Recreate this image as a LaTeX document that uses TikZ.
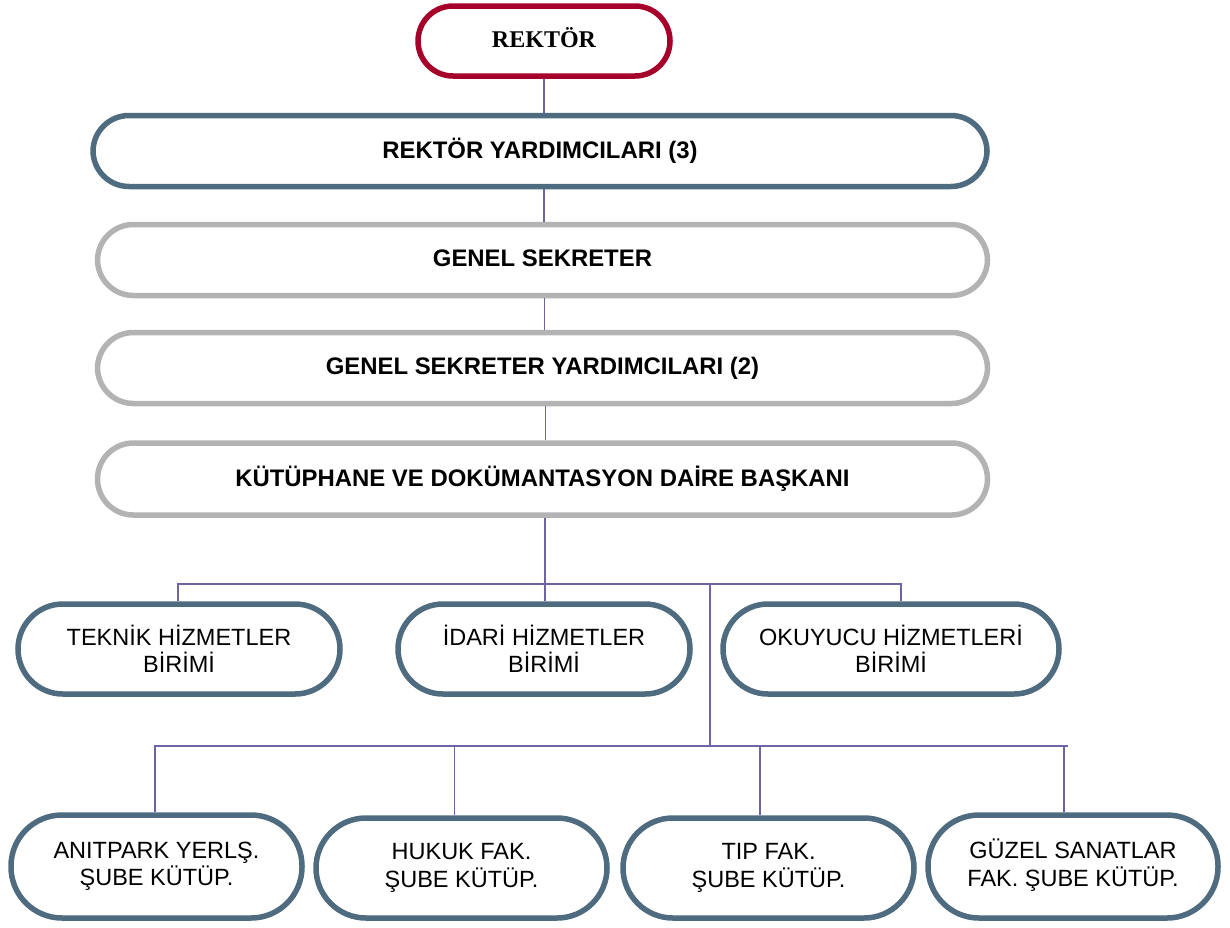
\documentclass[tikz,border=0pt]{standalone}
\usepackage{fontspec}
\setmainfont{Liberation Serif}
\setsansfont{Liberation Sans}
\definecolor{crim}{HTML}{A6002A}
\definecolor{slate}{HTML}{4E6B7F}
\definecolor{lgray}{HTML}{B3B3B3}
\definecolor{conn}{HTML}{6C64A6}
\newcommand{\up}[2]{\raisebox{#1}{#2}}
\newcommand{\twolines}[2]{\raisebox{3pt}{\begin{tabular}{@{}c@{}}#1\\#2\end{tabular}}}
\begin{document}
\begin{tikzpicture}[x=1pt,y=-1pt,
  box/.style={draw, rectangle, line width=5.5pt, fill=white, align=center, inner sep=0pt},
  wide/.style={box, rounded corners=36pt, minimum width=890pt, minimum height=71pt,
     font=\sffamily\bfseries\fontsize{23.9}{28}\selectfont},
  pill/.style={box, draw=slate, font=\sffamily\fontsize{23.5}{27.5}\selectfont},
  link/.style={draw=conn, line width=1.5pt}]
\useasboundingbox (0,0) rectangle (1230,927);

\node[box, draw=crim, rounded corners=35pt, minimum width=252pt, minimum height=70pt,
  font=\rmfamily\bfseries\fontsize{24}{28}\selectfont] (rektor) at (544,41) {\up{6pt}{REKTÖR}};
\node[wide, draw=slate, minimum width=894pt] (ry) at (540,151) {\up{2pt}{REKTÖR YARDIMCILARI (3)}};
\node[wide, draw=lgray] (gs) at (542.5,260) {\up{3pt}{GENEL SEKRETER}};
\node[wide, draw=lgray] (gsy) at (542.5,368) {\up{3pt}{GENEL SEKRETER YARDIMCILARI (2)}};
\node[wide, draw=lgray, minimum height=72pt] (kddb) at (542.5,479) {\up{2.5pt}{KÜTÜPHANE VE DOKÜMANTASYON DAİRE BAŞKANI}};

\node[pill, rounded corners=45pt, minimum width=322pt, minimum height=90pt] (teknik) at (179,649) {TEKNİK HİZMETLER\\BİRİMİ};
\node[pill, rounded corners=45pt, minimum width=292pt, minimum height=90pt] (idari) at (544,649) {İDARİ HİZMETLER\\BİRİMİ};
\node[pill, rounded corners=45pt, minimum width=336pt, minimum height=90pt] (okuyucu) at (891,649) {OKUYUCU HİZMETLERİ\\BİRİMİ};

\node[pill, rounded corners=51pt, minimum width=291pt, minimum height=103pt] (anit) at (156.5,866.5) {\twolines{ANITPARK YERLŞ.}{ŞUBE KÜTÜP.}};
\node[pill, rounded corners=50pt, minimum width=291pt, minimum height=100pt] (hukuk) at (461.5,868) {\twolines{HUKUK FAK.}{ŞUBE KÜTÜP.}};
\node[pill, rounded corners=50pt, minimum width=291pt, minimum height=100pt] (tip) at (768.5,868) {\twolines{TIP FAK.}{ŞUBE KÜTÜP.}};
\node[pill, rounded corners=51pt, minimum width=290pt, minimum height=103pt] (guzel) at (1073,866.5) {\twolines{GÜZEL SANATLAR}{FAK. ŞUBE KÜTÜP.}};

\coordinate (b1) at (545,584);
\coordinate (b1r) at (710,584);
\coordinate (b2) at (710,746);
\coordinate (b2r) at (1068,746);

\draw[link] (rektor.south) -- (rektor.south |- ry.north);
\draw[link] (ry.south -| rektor.south) -- (gs.north -| rektor.south);
\draw[link] ([xshift=2pt]gs.south) -- ([xshift=2pt]gsy.north);
\draw[link] ([xshift=3pt]gsy.south) -- ([xshift=3pt]kddb.north);
\draw[link] (kddb.south -| b1) -- (b1);
\draw[link] ([xshift=-1pt]teknik.north) |- (b1);
\draw[link] ([xshift=10pt]okuyucu.north) |- (b1);
\draw[link] (b1) -- (idari.north -| b1);
\draw[link] (b1r) -- (b2);
\draw[link] ([xshift=-1.5pt]anit.north) |- (b2);
\draw[link] ([xshift=-7pt]hukuk.north) |- (b2);
\draw[link] ([xshift=-8.5pt]tip.north) |- (b2);
\draw[link] ([xshift=-9pt]guzel.north) |- (b2r);
\draw[link] (b2) -- (b2r);
\end{tikzpicture}
\end{document}
